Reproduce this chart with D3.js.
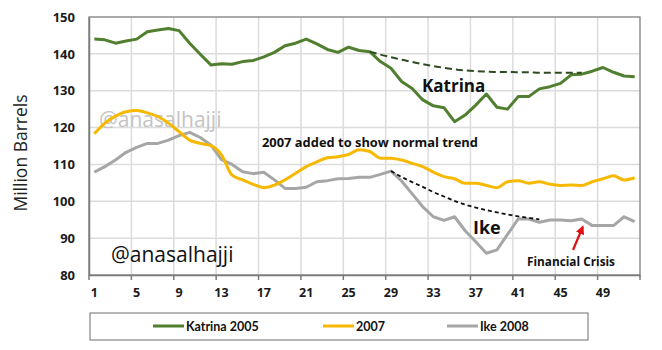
<!DOCTYPE html>
<html>
<head>
<meta charset="utf-8">
<script src="https://cdn.jsdelivr.net/npm/d3@7"></script>
<style>
  html, body { margin: 0; padding: 0; background: #ffffff; }
  svg { display: block; font-family: "Open Sans", "Liberation Sans", sans-serif; }
</style>
</head>
<body>
<svg id="chart" width="662" height="350"></svg>
<script>
// Weekly crude inventory (million barrels), weeks 1..52
const weeks = d3.range(1, 53);

const katrina2005 = [144.0,143.8,142.9,143.5,144.0,146.0,146.5,146.9,146.3,142.9,
  139.9,137.0,137.3,137.2,137.9,138.2,139.2,140.4,142.2,142.9,
  144.0,142.7,141.2,140.4,141.8,140.9,140.6,137.9,136.1,132.5,
  130.6,127.5,125.9,125.4,121.6,123.4,126.1,129.1,125.5,125.0,
  128.4,128.4,130.5,131.1,132.0,134.3,134.5,135.3,136.3,135.0,
  134.0,133.8];

const y2007 = [118.3,121.2,123.1,124.3,124.6,124.0,123.0,121.2,118.9,116.6,
  115.7,115.1,112.6,107.1,105.8,104.6,103.7,104.4,105.8,107.6,
  109.4,110.7,111.8,112.1,112.7,114.0,113.5,111.7,111.7,111.2,
  110.3,109.4,107.9,106.7,106.1,104.9,104.9,104.3,103.7,105.3,
  105.6,104.9,105.3,104.6,104.3,104.4,104.3,105.3,106.1,106.9,
  105.8,106.4];

const ike2008 = [107.9,109.4,111.2,113.3,114.6,115.7,115.7,116.6,117.8,118.7,
  117.3,115.3,111.3,110.0,108.0,107.5,107.9,105.8,103.5,103.5,
  103.8,105.3,105.6,106.1,106.2,106.5,106.5,107.3,108.2,105.5,
  102.0,98.5,95.8,94.8,95.8,92.0,89.0,85.9,86.8,91.0,
  95.2,95.2,94.3,94.9,94.9,94.7,95.2,93.4,93.4,93.4,
  95.8,94.5];

// Expected "normal" paths after each storm
const katrinaTrendWeeks = d3.range(27, 48);
const katrinaTrend = [140.6,139.8,139.1,138.4,137.8,137.2,136.7,136.2,135.8,135.5,
  135.3,135.2,135.1,135.1,135.0,135.0,134.9,134.9,134.9,134.9,134.9];
const ikeTrendWeeks = d3.range(29, 44);
const ikeTrend = [108.2,106.6,105.2,103.9,102.5,101.3,100.1,99.1,98.3,97.6,
  97.0,96.4,95.9,95.5,95.1];

const yTicks = [80, 90, 100, 110, 120, 130, 140, 150];
const xTickWeeks = [1, 5, 9, 13, 17, 21, 25, 29, 33, 37, 41, 45, 49];

const seriesNames = ["Katrina 2005", "2007", "Ike 2008"];
const seriesColors = ["#4f7f2f", "#f7b900", "#a6a6a6"];

const svg = d3.select("#chart");
const L = 89, R = 640, T = 17, B = 275;

const x = d3.scaleBand().domain(weeks).range([L, R]).padding(0);
const xEdge = d3.scaleLinear().domain([0, 52]).range([L, R]);
const y = d3.scaleLinear().domain([80, 150]).range([B, T]);
const cx = d => x(d) + x.bandwidth() / 2;

// gridlines
const grid = svg.append("g");
grid.selectAll("line.h").data(yTicks.filter(v => v > 80 && v < 150)).join("line")
  .attr("x1", L).attr("x2", R).attr("y1", d => y(d)).attr("y2", d => y(d))
  .attr("stroke", "#dcdcdc").attr("stroke-width", 1.5);
grid.selectAll("line.v").data(d3.range(4, 52, 4)).join("line")
  .attr("x1", d => xEdge(d)).attr("x2", d => xEdge(d)).attr("y1", T).attr("y2", B)
  .attr("stroke", "#dcdcdc").attr("stroke-width", 1.5);

// frame
svg.append("rect").attr("x", L).attr("y", T).attr("width", R - L).attr("height", B - T)
  .attr("fill", "none").attr("stroke", "#7e7e7e").attr("stroke-width", 1.3);

// y axis
const yAxis = d3.axisLeft(y).tickValues(yTicks).tickSize(0).tickPadding(14);
const gy = svg.append("g").attr("transform", `translate(${L},0)`).call(yAxis);
gy.select(".domain").attr("stroke", "#7a7a7a").attr("stroke-width", 1.5);
gy.selectAll("text").attr("font-size", 13).attr("font-weight", 700).attr("fill", "#1a1a1a")
  .attr("font-family", "'Open Sans', sans-serif");

// x axis: labels centred on weeks, tick marks on week boundaries
const xAxis = d3.axisBottom(x).tickValues(xTickWeeks).tickSize(0).tickPadding(13);
const gx = svg.append("g").attr("transform", `translate(0,${B})`).call(xAxis);
gx.select(".domain").attr("stroke", "#7a7a7a").attr("stroke-width", 1.5);
gx.selectAll("text").attr("font-size", 12.5).attr("font-weight", 700).attr("fill", "#1a1a1a")
  .attr("font-family", "'Open Sans', sans-serif");
svg.append("g").selectAll("line").data(d3.range(0, 53, 4)).join("line")
  .attr("x1", d => xEdge(d)).attr("x2", d => xEdge(d)).attr("y1", B).attr("y2", B + 5)
  .attr("stroke", "#7a7a7a").attr("stroke-width", 1.5);

// y title
svg.append("text").attr("transform", "translate(27,153) rotate(-90)")
  .attr("text-anchor", "middle").attr("font-size", 17.5).attr("fill", "#222")
  .text("Million Barrels");

// watermark
svg.append("text").attr("x", 99).attr("y", 127).attr("font-size", 21)
  .attr("fill", "#c4c4c4").text("@anasalhajji");

// series lines
const line = d3.line().x((d, i) => cx(weeks[i])).y(d => y(d));
const smooth = d3.line().x((d, i) => cx(weeks[i])).y(d => y(d)).curve(d3.curveMonotoneX);
svg.append("path").datum(ike2008).attr("d", line).attr("fill", "none")
  .attr("stroke", seriesColors[2]).attr("stroke-width", 3).attr("stroke-linejoin", "round");
svg.append("path").datum(y2007).attr("d", smooth).attr("fill", "none")
  .attr("stroke", seriesColors[1]).attr("stroke-width", 3).attr("stroke-linejoin", "round");
svg.append("path").datum(katrina2005).attr("d", line).attr("fill", "none")
  .attr("stroke", seriesColors[0]).attr("stroke-width", 3).attr("stroke-linejoin", "round");

// trend lines
const trendLine = (wks) => d3.line().x((d, i) => cx(wks[i])).y(d => y(d)).curve(d3.curveMonotoneX);
svg.append("path").datum(katrinaTrend).attr("d", trendLine(katrinaTrendWeeks))
  .attr("fill", "none").attr("stroke", "#2f4a22").attr("stroke-width", 2)
  .attr("stroke-dasharray", "7,4");
svg.append("path").datum(ikeTrend).attr("d", trendLine(ikeTrendWeeks))
  .attr("fill", "none").attr("stroke", "#111").attr("stroke-width", 1.8)
  .attr("stroke-dasharray", "4,3");

// annotations
svg.append("text").attr("x", 422).attr("y", 92).attr("font-size", 17).attr("font-weight", 700)
  .attr("fill", "#111").text("Katrina");
svg.append("text").attr("x", 473).attr("y", 234).attr("font-size", 18).attr("font-weight", 700)
  .attr("fill", "#111").text("Ike");
svg.append("text").attr("x", 262).attr("y", 146.5).attr("font-size", 12.9).attr("font-weight", 700)
  .attr("fill", "#111").text("2007 added to show normal trend");
svg.append("text").attr("x", 527).attr("y", 266).attr("font-size", 11.8).attr("font-weight", 700)
  .attr("fill", "#111").text("Financial Crisis");
svg.append("text").attr("x", 111).attr("y", 262).attr("font-size", 21)
  .attr("fill", "#111").text("@anasalhajji");

// arrow to the financial-crisis week
const defs = svg.append("defs");
defs.append("marker").attr("id", "arrowHead").attr("viewBox", "0 0 10 10")
  .attr("refX", 8).attr("refY", 5).attr("markerWidth", 4).attr("markerHeight", 4)
  .attr("orient", "auto")
  .append("path").attr("d", "M0,0 L10,5 L0,10 z").attr("fill", "#e01010");
svg.append("line").attr("x1", 573).attr("y1", 250).attr("x2", cx(47) + 1).attr("y2", y(95.2) + 8)
  .attr("stroke", "#e01010").attr("stroke-width", 2.2).attr("marker-end", "url(#arrowHead)");

// legend
const lg = svg.append("g");
lg.append("rect").attr("x", 90).attr("y", 313).attr("width", 498).attr("height", 27)
  .attr("fill", "#fff").attr("stroke", "#6e6e6e").attr("stroke-width", 1);
const legendX = [153, 323, 447];
seriesNames.forEach((name, i) => {
  lg.append("line").attr("x1", legendX[i]).attr("x2", legendX[i] + 31)
    .attr("y1", 326).attr("y2", 326).attr("stroke", seriesColors[i]).attr("stroke-width", 3);
  lg.append("text").attr("x", legendX[i] + 33).attr("y", 330.5)
    .attr("font-family", "Lato, 'Open Sans', sans-serif")
    .attr("font-size", 12.5).attr("font-weight", 700).attr("fill", "#111").text(name);
});
</script>
</body>
</html>
